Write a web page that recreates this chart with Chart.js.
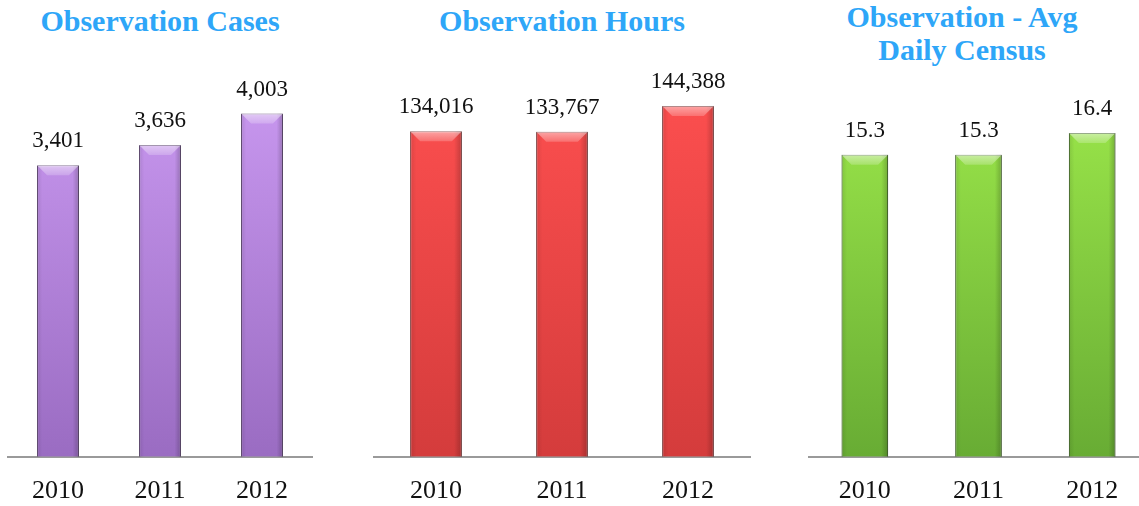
<!DOCTYPE html>
<html>
<head>
<meta charset="utf-8">
<script src="https://cdn.jsdelivr.net/npm/chart.js@4.4.0/dist/chart.umd.min.js"></script>
<style>
  html, body { margin: 0; padding: 0; background: #fff; overflow: hidden; }
  body { width: 1139px; height: 506px; position: relative; }
  canvas { position: absolute; top: 0; }
  .title {
    position: absolute;
    font-family: "Book Antiqua", "Palatino Linotype", "Liberation Serif", serif;
    font-weight: bold;
    font-size: 30px;
    line-height: 33px;
    color: #2ea6f8;
    text-align: center;
    white-space: nowrap;
  }
</style>
</head>
<body>
<div class="title" style="left:7px; width:306px; top:4px;">Observation Cases</div>
<div class="title" style="left:373px; width:378px; top:4px;">Observation Hours</div>
<div class="title" style="left:812px; width:300px; top:0px;">Observation - Avg<br>Daily Census</div>

<canvas id="casesChart" width="306" height="526" style="left:7px"></canvas>
<canvas id="hoursChart" width="378" height="526" style="left:373px"></canvas>
<canvas id="censusChart" width="341" height="526" style="left:808px"></canvas>

<script>
const years = ['2010', '2011', '2012'];
const cases = [3401, 3636, 4003];
const hours = [134016, 133767, 144388];
const census = [15.3, 15.3, 16.4];

const serif = '"Book Antiqua", "Palatino Linotype", "Liberation Serif", serif';

// Bevel + value labels drawn on top of each bar
const barDecor = {
  id: 'barDecor',
  afterDatasetsDraw(chart, args, opts) {
    const ctx = chart.ctx;
    const meta = chart.getDatasetMeta(0);
    const values = chart.data.datasets[0].data;
    meta.data.forEach((bar, i) => {
      const { x, y, base, width } = bar.getProps(['x', 'y', 'base', 'width'], true);
      const l = x - width / 2, r = x + width / 2;
      const b = 10;
      ctx.save();
      // side shading
      let g = ctx.createLinearGradient(l, 0, r, 0);
      g.addColorStop(0, 'rgba(0,0,0,0.10)');
      g.addColorStop(0.12, 'rgba(0,0,0,0)');
      g.addColorStop(0.85, 'rgba(0,0,0,0)');
      g.addColorStop(1, 'rgba(0,0,0,0.22)');
      ctx.fillStyle = g;
      ctx.fillRect(l, y, width, base - y);
      // top bevel
      ctx.beginPath();
      ctx.moveTo(l, y);
      ctx.lineTo(r, y);
      ctx.lineTo(r - b, y + b);
      ctx.lineTo(l + b, y + b);
      ctx.closePath();
      g = ctx.createLinearGradient(0, y, 0, y + b);
      g.addColorStop(0, 'rgba(255,255,255,0.5)');
      g.addColorStop(1, 'rgba(255,255,255,0.2)');
      ctx.fillStyle = g;
      ctx.fill();
      // value label
      ctx.fillStyle = '#111';
      ctx.font = '23px ' + serif;
      ctx.textAlign = 'center';
      ctx.textBaseline = 'alphabetic';
      ctx.fillText(opts.fmt(values[i]), x, y - 18);
      ctx.restore();
    });
  }
};

function makeChart(id, data, max, padTop, top, bottom, edge, fmt) {
  return new Chart(document.getElementById(id), {
    type: 'bar',
    data: {
      labels: years,
      datasets: [{
        data: data,
        backgroundColor: (c) => {
          const area = c.chart.chartArea;
          if (!area) return top;
          const g = c.chart.ctx.createLinearGradient(0, area.top, 0, area.bottom);
          g.addColorStop(0, top);
          g.addColorStop(1, bottom);
          return g;
        },
        borderColor: edge,
        borderWidth: 1,
        borderSkipped: 'bottom',
        categoryPercentage: 1,
        barPercentage: 0.41
      }]
    },
    options: {
      responsive: false,
      animation: false,
      layout: { padding: { top: padTop, bottom: 0, left: 0, right: 0 } },
      plugins: {
        legend: { display: false },
        tooltip: { enabled: false },
        barDecor: { fmt: fmt }
      },
      scales: {
        x: {
          grid: { display: false, drawTicks: false },
          border: { display: true, color: '#9a9a9a', width: 2 },
          ticks: { color: '#111', font: { family: serif, size: 26 }, padding: 19 }
        },
        y: { display: false, min: 0, max: max }
      }
    },
    plugins: [barDecor]
  });
}

const comma = v => v.toLocaleString('en-US');
makeChart('casesChart', cases, 4500, 71, '#cb9af2', '#9a6cc2', '#4a3060', comma);
makeChart('hoursChart', hours, 160000, 68, '#ff5050', '#d43c3c', '#6a1a1a', comma);
makeChart('censusChart', census, 20, 62, '#a0ec4c', '#68ac34', '#335a18', v => v.toFixed(1));
</script>
</body>
</html>
